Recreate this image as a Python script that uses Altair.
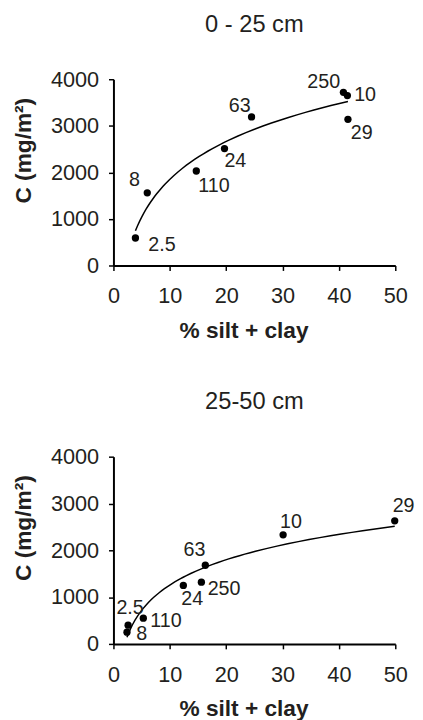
import altair as alt
import pandas as pd

FONT = "Liberation Sans"
INK = "#231f20"

# ---- data: 0 - 25 cm panel ----
top_labels = ["2.5", "8", "110", "24", "63", "250", "10", "29"]
top_silt_clay = [3.9, 6.0, 14.7, 19.7, 24.5, 40.8, 41.5, 41.6]
top_carbon = [590, 1560, 2030, 2510, 3190, 3720, 3650, 3140]

# ---- data: 25-50 cm panel ----
bot_labels = ["2.5", "8", "110", "24", "250", "63", "10", "29"]
bot_silt_clay = [2.6, 2.4, 5.3, 12.4, 15.6, 16.3, 30.1, 49.9]
bot_carbon = [400, 250, 550, 1250, 1320, 1680, 2330, 2630]

x_ticks = [0, 10, 20, 30, 40, 50]
y_ticks = [0, 1000, 2000, 3000, 4000]

# label placement (pixel offsets from each point) -- styling only
top_offsets = {"2.5": (27, 7), "8": (-13, -13), "110": (18, 15), "24": (11, 13),
               "63": (-12, -11), "250": (-20, -10), "10": (18, 0), "29": (14, 14)}
bot_offsets = {"2.5": (2, -17), "8": (15, 2), "110": (23, 3), "24": (9, 14),
               "250": (23, 7), "63": (-11, -15), "10": (8, -13), "29": (9, -15)}


def panel(labels, xs, ys, title, offsets, height):
    df = pd.DataFrame({"label": labels, "silt": xs, "c": ys})
    base = alt.Chart(df)
    x = alt.X("silt:Q", scale=alt.Scale(domain=[0, 50], nice=False),
              axis=alt.Axis(values=x_ticks, format="d", title="% silt + clay", titleX=132,
                            titleY=73, titleBaseline="alphabetic", titleAlign="center"))
    y = alt.Y("c:Q", scale=alt.Scale(domain=[0, 4000], nice=False),
              axis=alt.Axis(values=y_ticks, format="d", title="C (mg/m²)", titleAngle=270,
                            titleX=-84, titleY=72, titleBaseline="alphabetic",
                            titleAlign="center"))
    line = base.transform_regression("silt", "c", method="log").mark_line(
        color="black", strokeWidth=1.5).encode(x=x, y=y)
    pts = base.mark_circle(size=55, color="black", opacity=1).encode(x=x, y=y)
    texts = [
        base.transform_filter(alt.datum.label == lab).mark_text(
            dx=dx, dy=dy, font=FONT, fontSize=20, color=INK,
            align="center", baseline="middle").encode(x=x, y=y, text="label:N")
        for lab, (dx, dy) in offsets.items()
    ]
    return alt.layer(line, pts, *texts).properties(
        width=286, height=height,
        title=alt.TitleParams(title, font=FONT, fontSize=24, fontWeight="normal",
                              color=INK, anchor="middle", frame="group",
                              baseline="alphabetic", offset=13))


top = panel(top_labels, top_silt_clay, top_carbon, "0 - 25 cm", top_offsets, 189)
bot = panel(bot_labels, bot_silt_clay, bot_carbon, "25-50 cm", bot_offsets, 190)

chart = alt.vconcat(top, bot, spacing=49).properties(
    padding={"left": 5, "top": 0, "right": 0, "bottom": 0}
).configure_view(stroke=None).configure_axis(
    grid=False, domainColor="black", domainWidth=2, tickColor="black",
    tickWidth=1.5, tickSize=5, labelFont=FONT, labelFontSize=22, labelColor=INK,
    labelPadding=10, labelFlush=False, titleFont=FONT, titleFontSize=23,
    titleFontWeight="bold", titleColor=INK
).configure_axisX(labelPadding=16)

chart.save("out.html", embed_options={"renderer": "svg", "actions": False})
